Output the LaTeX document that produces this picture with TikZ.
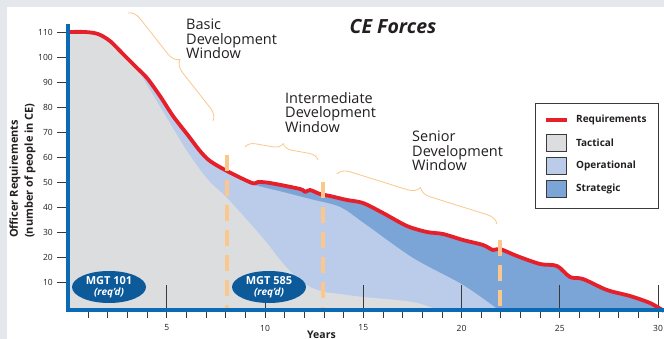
\documentclass[tikz,border=0pt]{standalone}
\usepackage{fontspec}
\setmainfont{Open Sans}
\usetikzlibrary{decorations.pathreplacing,shapes.geometric}
\definecolor{bggrey}{HTML}{E4E7EB}
\definecolor{tact}{HTML}{DCDDDF}
\definecolor{oper}{HTML}{BACCE9}
\definecolor{strat}{HTML}{7BA5D6}
\definecolor{redc}{HTML}{E5202B}
\definecolor{axisblue}{HTML}{0A6AB4}
\definecolor{orangec}{HTML}{FCC78D}
\definecolor{ellc}{HTML}{0D5A9B}
\definecolor{tickc}{HTML}{3A3A3A}
\definecolor{txtc}{HTML}{231F20}
\begin{document}
\begin{tikzpicture}[x=1pt,y=-1pt,
  req/.style={draw=redc,line width=3.8pt,line join=round},
  axisline/.style={draw=axisblue,line width=3.5pt},
  majtick/.style={draw=tickc,line width=0.8pt},
  mintick/.style={draw=tickc,line width=0.7pt},
  dashln/.style={draw=orangec,line width=3.6pt,dash pattern=on 16pt off 9pt},
  bracestyle/.style={draw=orangec,line width=0.8pt,decorate,decoration={brace,amplitude=12pt}},
  winlabel/.style={anchor=north west,align=left,inner sep=0pt,text=txtc,font=\fontsize{14.5}{14.5}\selectfont},
  ticklab/.style={text=txtc,font=\fontsize{8.5}{10}\selectfont,inner sep=0pt},
  legtext/.style={anchor=west,text=txtc,font=\fontsize{10}{12}\selectfont\bfseries,inner sep=0pt},
  swatch/.style={draw=tickc,line width=0.6pt,minimum width=20pt,minimum height=17pt,inner sep=0pt},
  mgt/.style={ellipse,fill=ellc,text=white,minimum width=74pt,minimum height=32pt,inner sep=0pt,align=center,font=\fontsize{11}{13}\selectfont\bfseries}
]
\useasboundingbox (0,0) rectangle (664,339);
\clip (0,0) rectangle (664,339);
\fill[bggrey] (0,0) rectangle (664,339);
\fill[white] (7,7) rectangle (664,339);

% areas
\begin{scope}
\clip (68,0) rectangle (664,310);
\fill[strat] (68,312) -- plot[smooth,tension=0.5] coordinates {(68,32) (85,32) (98,34) (110,41) (123,54) (137,68) (147,78) (160,96) (173,116) (187,134) (200,151) (210,161) (227,171) (252,183) (258,182) (270,183) (300,189) (305,192) (310,190) (320,194) (330,196) (347,200) (363,203) (383,213) (407,226) (427,232) (443,234) (463,240) (483,245) (493,250) (500,249) (517,256) (540,264) (557,266) (570,277) (583,279) (607,290) (630,296) (650,303) (664,311)} -- (664,312) -- cycle;
\fill[oper] (68,312) -- plot[smooth,tension=0.5] coordinates {(68,32) (85,32) (98,34) (110,41) (123,54) (137,68) (147,78) (160,96) (173,116) (187,134) (200,151) (210,161) (227,171) (252,184) (283,192) (310,199) (340,207) (365,224) (413,258) (463,285) (500,311)} -- cycle;
\fill[tact] (68,312) -- plot[smooth,tension=0.5] coordinates {(68,32) (85,32) (98,34) (110,41) (137,70) (150,90) (165,115) (185,148) (198,167) (210,182) (227,198) (247,220) (267,243) (280,260) (295,276) (310,287) (325,292) (340,294) (363,297) (413,302) (440,311)} -- cycle;
\end{scope}

% major ticks
\foreach \i in {5,10,...,30}{
  \draw[majtick] ({68.5+19.65*\i},285) -- ({68.5+19.65*\i},310);
}
% minor ticks below axis
\foreach \i in {1,...,30}{
  \draw[mintick] ({68.5+19.65*\i},312) -- ({68.5+19.65*\i},318);
}
% x labels
\foreach \i in {5,10,...,30}{
  \node[ticklab] (xl\i) at ({68.5+19.65*\i},328) {\i};
}
% y ticks and labels
\foreach \v in {10,20,...,110}{
  \draw[majtick] (57,{307-2.5*\v}) -- (66,{307-2.5*\v});
  \node[ticklab,anchor=east] (yl\v) at (53,{307-2.5*\v}) {\v};
}

% requirement line
\draw[req] plot[smooth,tension=0.5] coordinates {(68,32) (85,32) (98,34) (110,41) (123,54) (137,68) (147,78) (160,96) (173,116) (187,134) (200,151) (210,161) (227,171) (252,183) (258,182) (270,183) (300,189) (305,192) (310,190) (320,194) (330,196) (347,200) (363,203) (383,213) (407,226) (427,232) (443,234) (463,240) (483,245) (493,250) (500,249) (517,256) (540,264) (557,266) (570,277) (583,279) (607,290) (630,296) (650,303) (664,311)};

% dashed window lines
\coordinate (d1t) at (227,155); \coordinate (d1b) at (227,310);
\coordinate (d2t) at (323,182); \coordinate (d2b) at (323,310);
\coordinate (d3t) at (500,240); \coordinate (d3b) at (500,310);
\draw[dashln] (d1t) -- (d1b);
\draw[dashln] (d2t) -- (d2b);
\draw[dashln] (d3t) -- (d3b);

% axes
\draw[axisline] (68,24) -- (68,311.75);
\draw[axisline] (66.25,310) -- (664,310);

% MGT ellipses
\node[mgt] (mgt101) at (109,287) {MGT 101\\[-2pt]{\fontsize{10}{12}\selectfont\itshape (req'd)}};
\node[mgt] (mgt585) at (269,287) {MGT 585\\[-2pt]{\fontsize{10}{12}\selectfont\itshape (req'd)}};

% braces
\coordinate (b1s) at (128,13); \coordinate (b1e) at (213,121);
\coordinate (b2s) at (245,147); \coordinate (b2e) at (318,160);
\coordinate (b3s) at (337,174); \coordinate (b3e) at (497,224);
\draw[bracestyle] (b1s) -- (b1e);
\draw[bracestyle,decoration={brace,amplitude=10pt}] (b2s) -- (b2e);
\draw[bracestyle] (b3s) -- (b3e);

% window labels
\node[winlabel] (basic) at (186,19) {Basic\\Development\\Window};
\node[winlabel] (inter) at (285,92) {Intermediate\\Development\\Window};
\node[winlabel] (senior) at (412,131) {Senior\\Development\\Window};

% title
\node[text=txtc,font=\fontsize{19.5}{22}\selectfont\bfseries\itshape,inner sep=0pt] (title) at (393,27) {CE Forces};

% axis titles
\node[rotate=90,anchor=west,inner sep=0pt,text=txtc,font=\fontsize{11}{13}\selectfont\bfseries] (ylab1) at (15,238) {Officer Requirements};
\node[rotate=90,anchor=west,inner sep=0pt,text=txtc,font=\fontsize{11}{13}\selectfont\bfseries] (ylab2) at (30,238) {(number of people in CE)};
\node[anchor=base west,inner sep=0pt,text=txtc,font=\fontsize{10.5}{12}\selectfont\bfseries] (years) at (307,338) {Years};

% legend
\node[draw=tickc,line width=0.8pt,fill=white,minimum width=123pt,minimum height=105pt,inner sep=0pt] (legbox) at (596.5,155.5) {};
\coordinate (lr1) at (546,120); \coordinate (lr2) at (567,120);
\draw[req] (lr1) -- (lr2);
\node[legtext] (lreq) at (576,120) {Requirements};
\node[swatch,fill=tact] (sw1) at (556,142.5) {};
\node[legtext] (ltac) at (576,142.5) {Tactical};
\node[swatch,fill=oper] (sw2) at (556,165.5) {};
\node[legtext] (lop) at (576,165.5) {Operational};
\node[swatch,fill=strat] (sw3) at (556,188.5) {};
\node[legtext] (lstr) at (576,188.5) {Strategic};
\end{tikzpicture}
\end{document}
